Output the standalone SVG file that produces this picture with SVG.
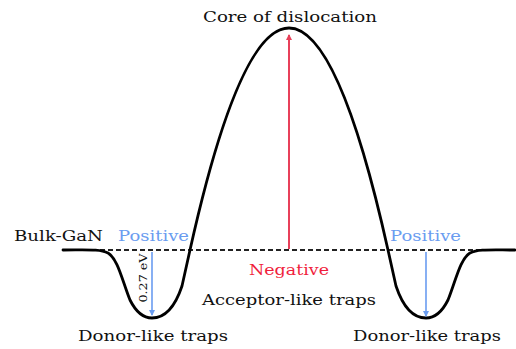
<svg xmlns="http://www.w3.org/2000/svg" width="516" height="349" viewBox="0 0 516 349">
<defs>
<style>
text{font-family:"DejaVu Serif","Liberation Serif",serif;font-size:15.5px;fill:#111}
.blue{fill:#6a9cf0}
.red{fill:#f01e3c}
.curve{fill:none;stroke:#000;stroke-width:2.8;stroke-linecap:round;stroke-linejoin:round}
.dash{stroke:#222;stroke-width:1.8;stroke-dasharray:5 3}
</style>
<marker id="ab" markerWidth="6" markerHeight="8" refX="5" refY="4" orient="auto" markerUnits="userSpaceOnUse"><path d="M0,1 L6,4 L0,7 z" fill="#6a9cf0"/></marker>
<marker id="ar" markerWidth="6" markerHeight="8" refX="5" refY="4" orient="auto" markerUnits="userSpaceOnUse"><path d="M0,1 L6,4 L0,7 z" fill="#e8405a"/></marker>
</defs>
<g id="connectors">
<path class="dash" d="M100,250 H515"/>
<path class="curve" d="M63,250 C88,250 100,249 108,253 C118,259 122,280 130,300 C137,314 144,318 152,318 C163,318 174,310 182,286 L190,250 Q289,-194 388,250 L396,286 C404,310 415,318 426,318 C434,318 441,314 448,300 C456,280 460,259 470,253 C478,249 490,250 515,250"/>
<line x1="289" y1="249" x2="289" y2="35" stroke="#e8405a" stroke-width="2" marker-end="url(#ar)"/>
<line x1="152" y1="252" x2="152" y2="315" stroke="#6a9cf0" stroke-width="1.6" marker-end="url(#ab)"/>
<line x1="426" y1="252" x2="426" y2="316" stroke="#6a9cf0" stroke-width="1.6" marker-end="url(#ab)"/>
</g>
<g id="core"><text x="203" y="22" textLength="174" lengthAdjust="spacingAndGlyphs">Core of dislocation</text></g>
<g id="bulk"><text x="14" y="241" textLength="89" lengthAdjust="spacingAndGlyphs">Bulk-GaN</text></g>
<g id="pos-left"><text class="blue" x="118" y="241" textLength="71" lengthAdjust="spacingAndGlyphs">Positive</text></g>
<g id="pos-right"><text class="blue" x="390" y="241" textLength="71" lengthAdjust="spacingAndGlyphs">Positive</text></g>
<g id="negative"><text class="red" x="249" y="275" textLength="80" lengthAdjust="spacingAndGlyphs">Negative</text></g>
<g id="acceptor"><text x="202" y="305" textLength="174" lengthAdjust="spacingAndGlyphs">Acceptor-like traps</text></g>
<g id="donor-left"><text x="78" y="341" textLength="150" lengthAdjust="spacingAndGlyphs">Donor-like traps</text></g>
<g id="donor-right"><text x="353" y="341" textLength="148" lengthAdjust="spacingAndGlyphs">Donor-like traps</text></g>
<g id="ev"><text x="147" y="278" text-anchor="middle" transform="rotate(-90 147 278)" style="font-size:11.5px" textLength="49" lengthAdjust="spacingAndGlyphs">0.27 eV</text></g>
</svg>
